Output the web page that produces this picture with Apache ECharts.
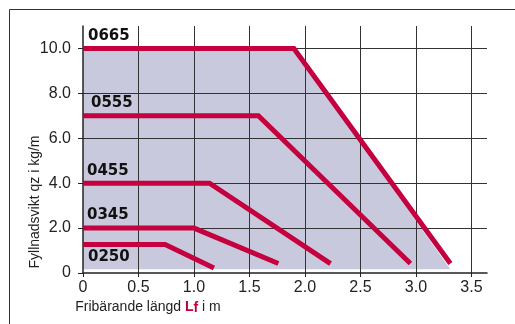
<!DOCTYPE html>
<html><head><meta charset="utf-8">
<script src="https://cdn.jsdelivr.net/npm/echarts@6/dist/echarts.min.js"></script>
<style>html,body{margin:0;padding:0;background:#fff}#c{width:515px;height:324px}</style>
</head><body><div id="c"></div>
<script>
// Data
const seriesNames = ['0665', '0555', '0455', '0345', '0250'];
const x0665 = [0, 1.9, 3.31];  const y0665 = [10, 10, 0.42];
const x0555 = [0, 1.58, 2.95]; const y0555 = [7, 7, 0.42];
const x0455 = [0, 1.14, 2.23]; const y0455 = [4, 4, 0.42];
const x0345 = [0, 1.0, 1.76];  const y0345 = [2, 2, 0.42];
const x0250 = [0, 0.74, 1.18]; const y0250 = [1.27, 1.27, 0.22];
const envX = [0, 0, 1.9, 3.31];
const envY = [0.17, 10, 10, 0.17];
const xTicks = [0, 0.5, 1.0, 1.5, 2.0, 2.5, 3.0, 3.5];
const yTicks = [0, 2, 4, 6, 8, 10];

const xsAll = [x0665, x0555, x0455, x0345, x0250];
const ysAll = [y0665, y0555, y0455, y0345, y0250];
const labelPad = [5, 8, 4, 4, 5];
const labelDy = [0, 0, 1, 0, -3];
const labelPos = ['top', 'top', 'top', 'top', 'bottom'];

const RED = '#c4003f';
const font = 'Liberation Sans, Arial, sans-serif';

const lineSeries = seriesNames.map((n, i) => ({
  type: 'line', name: n, z: 3,
  symbol: 'circle', symbolSize: 0, showSymbol: true,
  lineStyle: { color: RED, width: 5, cap: 'butt', join: 'miter' },
  itemStyle: { color: RED },
  data: xsAll[i].map((x, j) => {
    const item = { value: [x, ysAll[i][j]] };
    if (j === 0) item.label = {
      show: true, formatter: n, position: labelPos[i], align: 'left',
      padding: [0, 0, 0, labelPad[i]], offset: [0, labelDy[i]], distance: 5,
      fontFamily: 'DejaVu Sans, sans-serif', fontWeight: 'bold', fontSize: 15, color: '#111'
    };
    return item;
  }),
  label: { show: false },
  labelLayout: { hideOverlap: false },
  emphasis: { disabled: true },
  animation: false
}));

const envData = envX.map((x, i) => [x, envY[i]]);
const envSeries = {
  type: 'custom', z: -1, silent: true, animation: false,
  data: [0],
  renderItem: function (params, api) {
    const pts = envData.map(p => api.coord(p));
    return { type: 'polygon', shape: { points: pts }, style: { fill: '#c9c9dd' } };
  }
};

const chart = echarts.init(document.getElementById('c'), null, { renderer: 'canvas' });
chart.setOption({
  animation: false,
  grid: { left: 83, top: 26, right: 28, bottom: 51, containLabel: false },
  xAxis: {
    type: 'value', min: 0, max: 3.64, interval: 0.5,
    axisLine: { show: true, onZero: false, lineStyle: { color: '#222', width: 1.5 } },
    axisTick: { show: true, length: 4, customValues: xTicks, lineStyle: { color: '#222' } },
    axisLabel: {
      customValues: xTicks, margin: 7,
      fontSize: 16, fontFamily: font, color: '#222',
      formatter: v => v === 0 ? '0' : v.toFixed(1)
    },
    splitLine: { show: true, showMinLine: false, showMaxLine: true, lineStyle: { color: '#333', width: 1 } }
  },
  yAxis: {
    type: 'value', min: 0, max: 11, interval: 2,
    axisLine: { show: true, onZero: false, lineStyle: { color: '#222', width: 1.5 } },
    axisTick: { show: true, length: 5, customValues: yTicks, lineStyle: { color: '#222' } },
    axisLabel: {
      customValues: yTicks, margin: 12,
      fontSize: 16, fontFamily: font, color: '#222',
      formatter: v => v === 0 ? '0' : v.toFixed(1)
    },
    splitLine: { show: true, showMinLine: false, showMaxLine: true, lineStyle: { color: '#333', width: 1 } }
  },
  graphic: [
    { type: 'rect', z: -10, shape: { x: 9.5, y: 9.5, width: 600, height: 400 },
      style: { fill: 'none', stroke: '#333', lineWidth: 1 } },
    { type: 'text', x: 148, y: 307,
      style: {
        text: '{a|Fribärande längd }{b|L}{c|f}{a| i m}',
        align: 'center', verticalAlign: 'middle',
        rich: {
          a: { fontSize: 14, fontFamily: font, fill: '#222' },
          b: { fontSize: 14, fontFamily: font, fontWeight: 'bold', fill: RED },
          c: { fontSize: 14, fontFamily: font, fontWeight: 'bold', fill: RED, padding: [3, 0, 0, 0] }
        }
      } },
    { type: 'text', x: 35, y: 202, rotation: Math.PI / 2,
      style: {
        text: 'Fyllnadsvikt qz i kg/m', align: 'center', verticalAlign: 'middle',
        fontSize: 14, fontFamily: font, fill: '#222'
      } }
  ],
  series: [envSeries].concat(lineSeries)
});
</script>
</body></html>
